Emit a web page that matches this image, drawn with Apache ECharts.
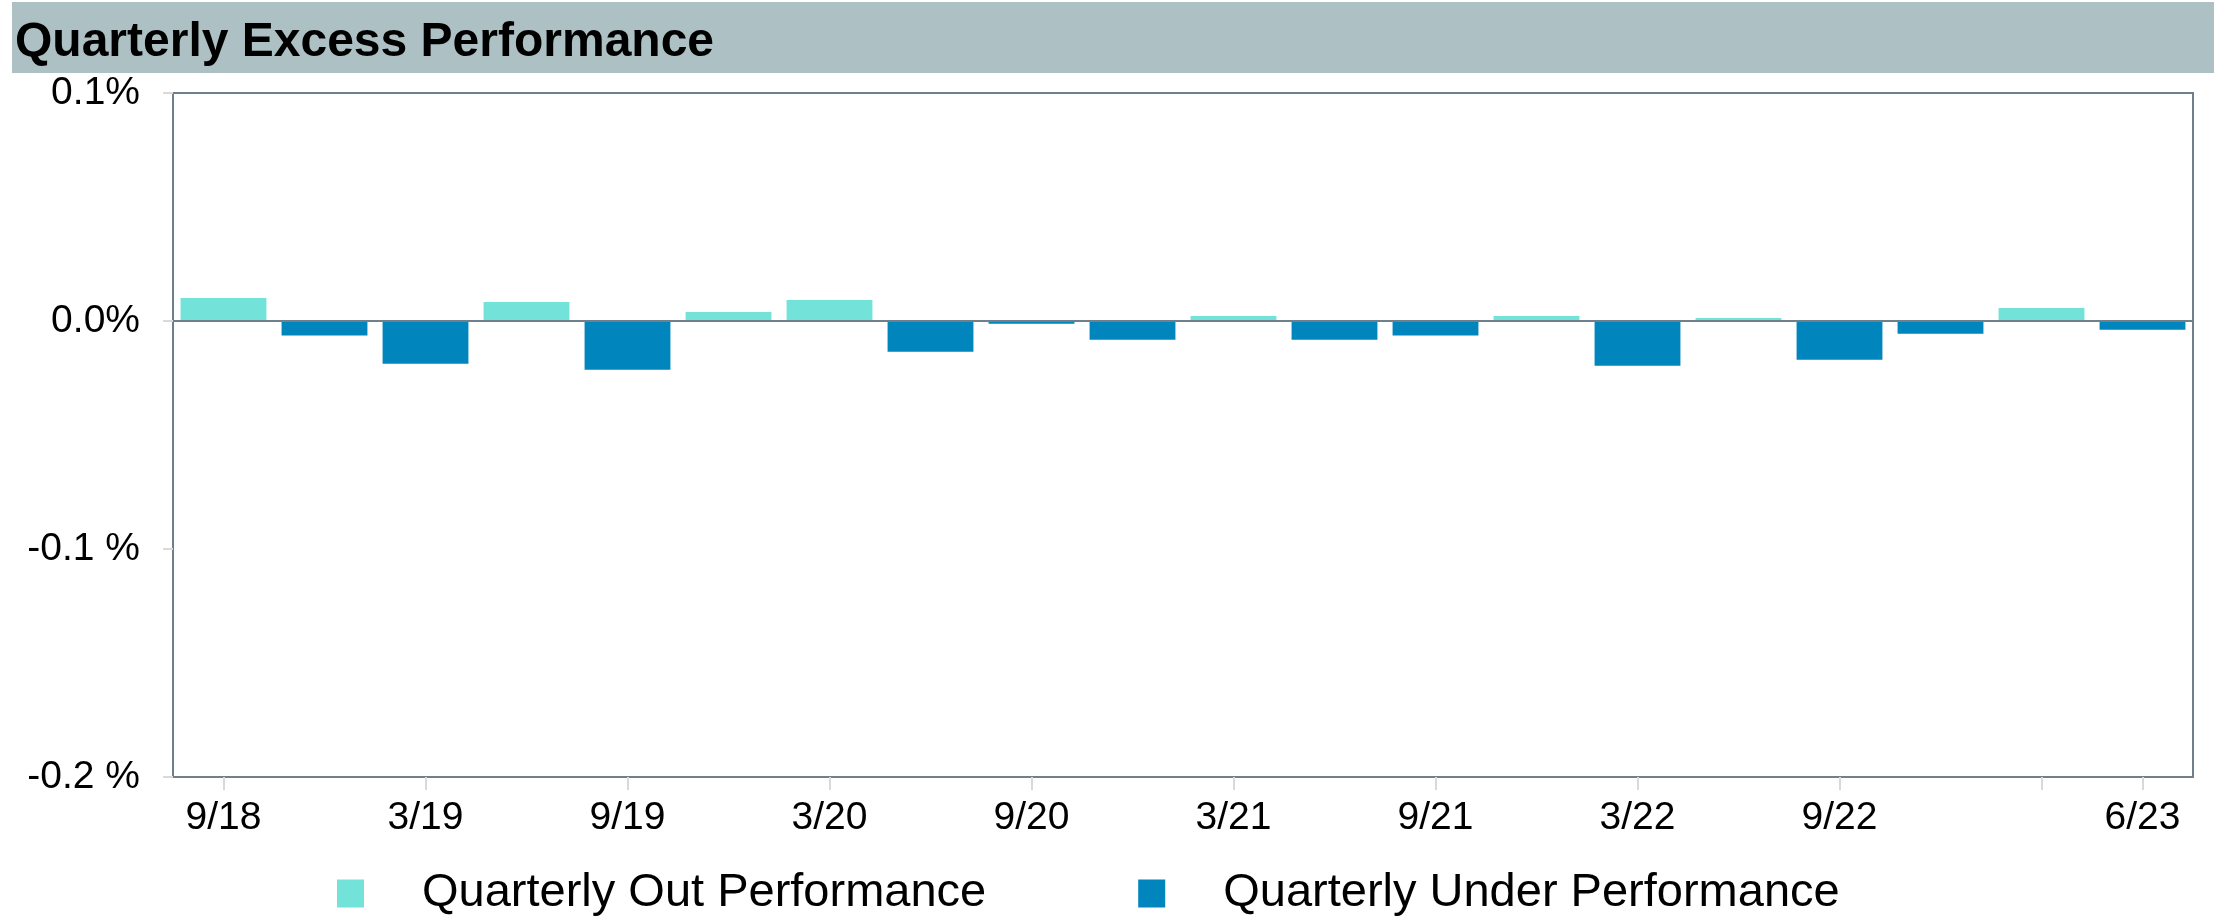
<!DOCTYPE html>
<html>
<head>
<meta charset="utf-8">
<script src="https://cdn.jsdelivr.net/npm/echarts@6/dist/echarts.min.js"></script>
<style>
html,body{margin:0;padding:0;background:#fff;}
#chart{width:2214px;height:921px;}
</style>
</head>
<body>
<div id="chart"></div>
<script>
const categories = ['9/18','12/18','3/19','6/19','9/19','12/19','3/20','6/20','9/20','12/20','3/21','6/21','9/21','12/21','3/22','6/22','9/22','12/22','3/23','6/23'];
const outPerformance = [0.0101,'-','-',0.0083,'-',0.0039,0.0092,'-','-','-',0.0022,'-','-',0.0022,'-',0.0013,'-','-',0.0057,'-'];
const underPerformance = ['-',-0.0064,-0.0187,'-',-0.0214,'-','-',-0.0135,-0.0012,-0.0082,'-',-0.0082,-0.0064,'-',-0.0196,'-',-0.0170,-0.0056,'-',-0.0038];
const yTickLabels = ['-0.2 %','-0.1 %','0.0%','0.1%'];
const seriesNames = ['Quarterly Out Performance','Quarterly Under Performance'];
const titleText = 'Quarterly Excess Performance';

const FONT = "'Liberation Sans', Arial, sans-serif";
const chart = echarts.init(document.getElementById('chart'));
const option = {
  animation: false,
  backgroundColor: '#ffffff',
  graphic: [
    {type:'rect', left: 12, top: 2, shape:{width: 2202, height: 71}, style:{fill:'#adc1c4'}, z: 0},
    {type:'text', left: 15, top: 19, style:{text: titleText, font: "bold 48px 'Liberation Sans', Arial, sans-serif", fill:'#000000'}, z: 1}
  ],
  grid: {left: 173, right: 21, top: 93, bottom: 144, show: true, borderColor: '#6f7f8c', borderWidth: 2, backgroundColor: 'transparent'},
  legend: {
    left: 332, top: 865,
    itemWidth: 27, itemHeight: 28, itemGap: 152,
    icon: 'rect',
    textStyle: {fontFamily: FONT, fontSize: 47, color: '#000', padding: [0,0,0,53]},
    data: seriesNames
  },
  xAxis: {
    type: 'category',
    data: categories,
    boundaryGap: true,
    axisLine: {onZero: false, show: true, lineStyle: {color: '#6f7f8c', width: 2}},
    axisTick: {show: true, alignWithLabel: true, length: 13, lineStyle: {color: '#d9d9d9', width: 2},
      interval: function(i){ return i % 2 === 0 || i === categories.length - 1; }},
    axisLabel: {fontFamily: FONT, fontSize: 39, color: '#000', margin: 22,
      interval: function(i){ return (i % 2 === 0 && i !== categories.length - 2) || i === categories.length - 1; }}
  },
  yAxis: {
    type: 'value', min: -0.2, max: 0.1, interval: 0.1,
    axisLine: {show: true, lineStyle: {color: '#6f7f8c', width: 2}},
    axisTick: {show: true, length: 10, lineStyle: {color: '#d9d9d9', width: 2}},
    splitLine: {show: false},
    axisLabel: {fontFamily: FONT, fontSize: 39, color: '#000', margin: 33,
      formatter: function(v){ const k = Math.round((v + 0.2) / 0.1); return yTickLabels[k]; }}
  },
  series: [
    {name: seriesNames[0], type: 'bar', data: outPerformance, barCategoryGap: '15%', barGap: '-100%',
      itemStyle: {color: '#73e2d9'},
      markLine: {silent: true, symbol: 'none', label: {show: false}, lineStyle: {color: '#6f7f8c', width: 2, type: 'solid'}, data: [{yAxis: 0}], z: 5}},
    {name: seriesNames[1], type: 'bar', data: underPerformance, barCategoryGap: '15%', barGap: '-100%',
      itemStyle: {color: '#0085bd'}}
  ]
};
chart.setOption(option);
</script>
</body>
</html>
